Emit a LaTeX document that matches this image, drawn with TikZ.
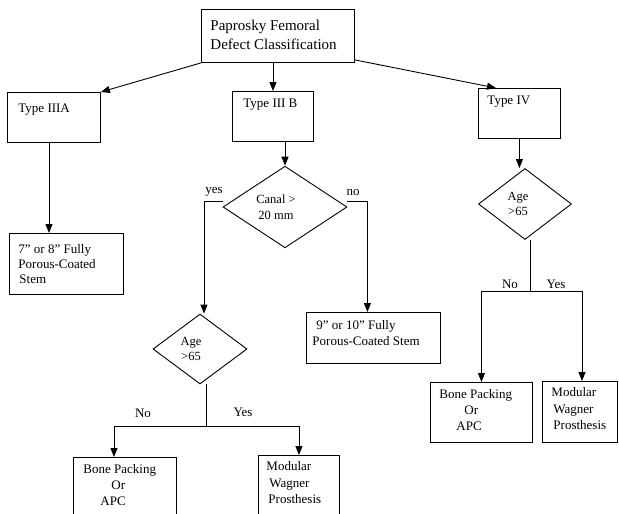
\documentclass[tikz,border=0pt]{standalone}
\usepackage{fontspec}
\setmainfont{Liberation Serif}
\usetikzlibrary{arrows.meta,shapes.geometric,calc}
\newcommand{\bxt}[7]{\parbox[c][#2pt][t]{#1pt}{\fontsize{#5}{#6}\selectfont\raggedright\leftskip=#4pt\relax\vspace*{#3pt}#7\par}}
\begin{document}
\begin{tikzpicture}[x=1pt,y=-1pt,
  box/.style={draw, line width=0.9pt, inner sep=0pt, anchor=north west},
  dia/.style={diamond, draw, line width=0.9pt, inner sep=0pt, align=center, font=\fontsize{12.5}{15.5}\selectfont},
  arr/.style={-{Triangle[length=9pt,width=7pt]}, line width=0.9pt},
  ln/.style={line width=0.9pt},
  lbl/.style={inner sep=0pt, font=\fontsize{13}{15}\selectfont}]
\useasboundingbox (0,0) rectangle (619,514);
\clip (0,0) rectangle (619,514);
\fill[white] (0,0) rectangle (619,514);
% boxes
\node[box] (top) at (201,9) {\bxt{153}{53}{11}{9}{15}{19}{Paprosky Femoral\\Defect Classification}};
\node[box] (iiia) at (7,92) {\bxt{93}{50}{11.5}{11}{13}{16}{Type IIIA}};
\node[box] (iiib) at (232,91) {\bxt{81}{50}{7.5}{11}{13}{16}{Type III B}};
\node[box] (iv) at (478,88) {\bxt{82}{50}{7.5}{9}{13}{16}{Type IV}};
\node[box] (s78) at (9,233) {\bxt{114}{61}{11.5}{9}{13}{15}{7” or 8” Fully\\Porous-Coated\\\hspace*{1pt}Stem}};
\node[box] (s910) at (306,312) {\bxt{134}{51}{8.5}{6}{13}{16}{\hspace*{4pt}9” or 10” Fully\\Porous-Coated Stem}};
\node[box] (bonel) at (73,457) {\bxt{103}{80}{7.5}{10}{13}{16}{Bone Packing\\\hspace*{28pt}Or\\\hspace*{17pt}APC}};
\node[box] (modl) at (258,455) {\bxt{81}{80}{6.5}{8}{13}{16.5}{Modular\\\hspace*{3pt}Wagner\\\hspace*{2pt}Prosthesis}};
\node[box] (boner) at (430,382) {\bxt{102}{60}{7.5}{9}{13}{16}{Bone Packing\\\hspace*{25pt}Or\\\hspace*{17pt}APC}};
\node[box] (modr) at (542,381) {\bxt{75}{61}{6.5}{9}{13}{16.5}{Modular\\\hspace*{2pt}Wagner\\\hspace*{2pt}Prosthesis}};
% diamonds
\node[dia, minimum width=124pt, minimum height=70pt] (canal) at (285,207) {Canal >\hspace*{18pt}\\20 mm\hspace*{18pt}};
\node[dia, minimum width=94pt, minimum height=70pt] (agel) at (200,349) {Age\hspace*{18pt}\\>65\hspace*{18pt}};
\node[dia, minimum width=93pt, minimum height=71pt] (ager) at (525,204) {Age\hspace*{14pt}\\>65\hspace*{14pt}};
% connectors
\draw[arr] (top.south west) -- (iiia.north east);
\draw[arr] (top.south -| iiib.north) -- (iiib.north);
\draw[arr] ([yshift=3pt]top.south east) -- ([xshift=18pt]iv.north west);
\coordinate (a1) at ($(iiia.south west)+(42,0)$);
\draw[arr] (a1) -- (a1 |- s78.north);
\draw[arr] (canal.north |- iiib.south) -- (canal.north);
\draw[arr] ([yshift=6pt]canal.west) -| ([xshift=4pt]agel.north);
\draw[arr] ([yshift=6pt]canal.east) -| ([xshift=-6pt]s910.north);
\coordinate (j1) at (206,426);
\draw[ln] ([xshift=6pt]agel.south) -- (j1);
\draw[arr] (j1) -| ($(bonel.north west)+(41,0)$);
\draw[arr] (j1) -| (modl.north);
\draw[arr] (iv.south) -- (iv.south |- ager.north);
\coordinate (j2) at (530,291);
\draw[ln] ([xshift=5pt]ager.south) -- (j2);
\draw[arr] (j2) -| (boner.north);
\draw[arr] (j2) -| ($(modr.north west)+(40,0)$);
% labels
\node[lbl] (lyes) at (214,192) {yes};
\node[lbl] (lno) at (353,192) {no};
\node[lbl] (lNo1) at (143,413) {No};
\node[lbl] (lYes1) at (243,412) {Yes};
\node[lbl] (lNo2) at (510,284) {No};
\node[lbl] (lYes2) at (556,284) {Yes};
\end{tikzpicture}
\end{document}
